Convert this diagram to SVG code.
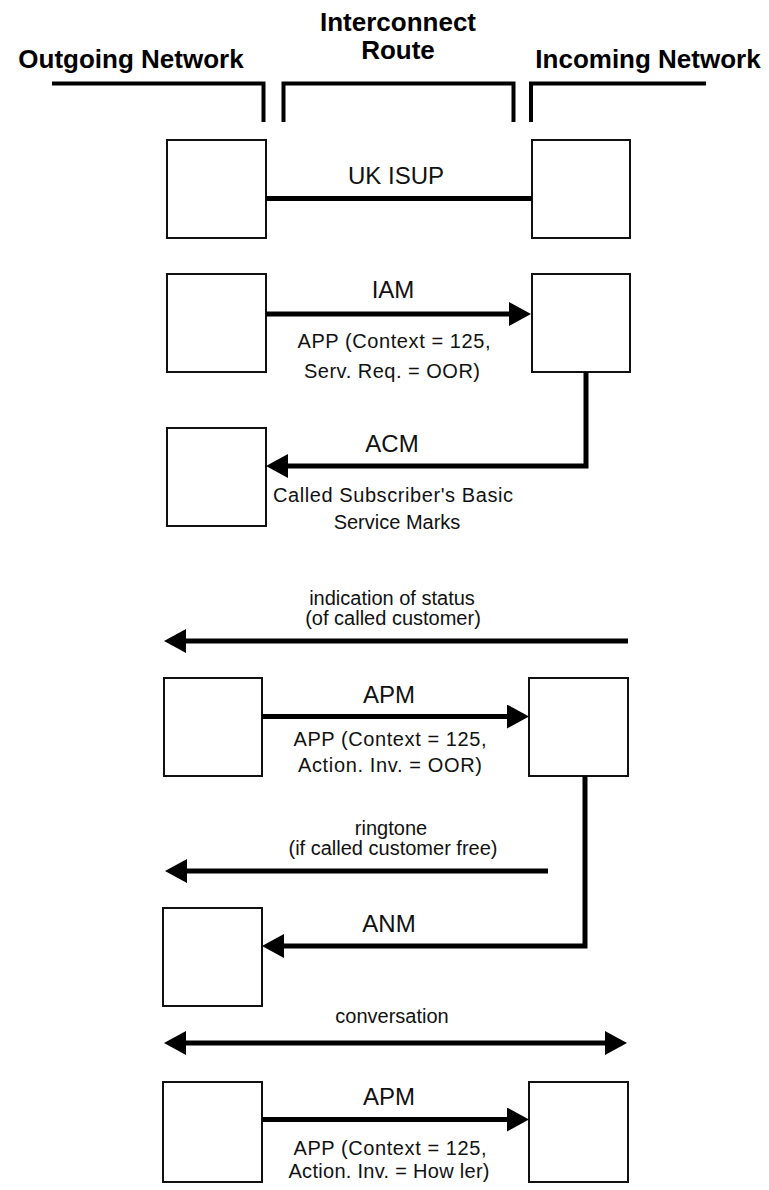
<svg xmlns="http://www.w3.org/2000/svg" width="769" height="1190" viewBox="0 0 769 1190">
<defs>
<marker id="ah" markerUnits="userSpaceOnUse" markerWidth="22" markerHeight="24" refX="10" refY="12" orient="auto-start-reverse">
<path d="M0,0 L22,12 L0,24 Z" fill="#000"/>
</marker>
<style>
.hdr{font-family:"Liberation Sans",Arial,sans-serif;font-weight:bold;font-size:26px;fill:#000;text-anchor:middle}
.msg{font-family:"Liberation Sans",Arial,sans-serif;font-size:24px;fill:#111;text-anchor:middle}
.lbl{font-family:"Liberation Sans",Arial,sans-serif;font-size:20px;fill:#111;text-anchor:middle}
.box{fill:#fff;stroke:#111;stroke-width:2}
.bracket{fill:none;stroke:#000;stroke-width:4}
.con{fill:none;stroke:#000;stroke-width:5}
.arr{fill:none;stroke:#000;stroke-width:5;marker-end:url(#ah)}
</style>
</defs>
<rect width="769" height="1190" fill="#fff"/>

<g id="headers">
<text class="hdr" x="131" y="68">Outgoing Network</text>
<text class="hdr" x="398" y="31">Interconnect</text>
<text class="hdr" x="398" y="59">Route</text>
<text class="hdr" x="648" y="68">Incoming Network</text>
<polyline class="bracket" points="52,83.5 263.5,83.5 263.5,122"/>
<polyline class="bracket" points="283.5,122 283.5,83.5 513.5,83.5 513.5,122"/>
<polyline class="bracket" points="531,122 531,83.5 706,83.5"/>
</g>

<g id="row1-out"><rect class="box" x="167" y="140" width="99" height="98"/></g>
<g id="row1-in"><rect class="box" x="532" y="140" width="98" height="98"/></g>
<g id="row2-out"><rect class="box" x="167" y="274" width="99" height="98"/></g>
<g id="row2-in"><rect class="box" x="532" y="274" width="98" height="98"/></g>
<g id="row3-out"><rect class="box" x="167" y="428" width="99" height="98"/></g>
<g id="row4-out"><rect class="box" x="164" y="678" width="98" height="98"/></g>
<g id="row4-in"><rect class="box" x="529" y="678" width="99" height="98"/></g>
<g id="row5-out"><rect class="box" x="163" y="908" width="99" height="98"/></g>
<g id="row6-out"><rect class="box" x="163" y="1082" width="99" height="100"/></g>
<g id="row6-in"><rect class="box" x="529" y="1082" width="99" height="100"/></g>

<g id="connectors">
<line class="con" x1="266" y1="198.5" x2="532" y2="198.5"/>
<line class="arr" x1="266" y1="314" x2="519" y2="314"/>
<polyline class="arr" points="586,372 586,466 278,466"/>
<line class="arr" x1="628" y1="641" x2="176" y2="641"/>
<line class="arr" x1="262" y1="716.5" x2="517" y2="716.5"/>
<line class="arr" x1="548" y1="871" x2="177" y2="871"/>
<polyline class="arr" points="585,776 585,946 274,946"/>
<line class="arr" x1="176" y1="1043" x2="615" y2="1043" style="marker-start:url(#ah)"/>
<line class="arr" x1="262" y1="1119.5" x2="517" y2="1119.5"/>
</g>

<g id="labels">
<text class="msg" x="396" y="184">UK ISUP</text>
<text class="msg" x="393" y="298">IAM</text>
<text class="lbl" x="394" y="348" textLength="193" lengthAdjust="spacing">APP (Context = 125,</text>
<text class="lbl" x="392" y="378" textLength="176" lengthAdjust="spacing">Serv. Req. = OOR)</text>
<text class="msg" x="392" y="452">ACM</text>
<text class="lbl" x="393" y="502" textLength="240" lengthAdjust="spacing">Called Subscriber's Basic</text>
<text class="lbl" x="397" y="529">Service Marks</text>
<text class="lbl" x="392" y="605">indication of status</text>
<text class="lbl" x="393" y="625">(of called customer)</text>
<text class="msg" x="389" y="703">APM</text>
<text class="lbl" x="390" y="746" textLength="193" lengthAdjust="spacing">APP (Context = 125,</text>
<text class="lbl" x="390" y="772" textLength="184" lengthAdjust="spacing">Action. Inv. = OOR)</text>
<text class="lbl" x="391" y="835">ringtone</text>
<text class="lbl" x="393" y="855">(if called customer free)</text>
<text class="msg" x="389" y="932">ANM</text>
<text class="lbl" x="392" y="1023">conversation</text>
<text class="msg" x="389" y="1105">APM</text>
<text class="lbl" x="390" y="1155" textLength="193" lengthAdjust="spacing">APP (Context = 125,</text>
<text class="lbl" x="389" y="1178" textLength="201" lengthAdjust="spacing">Action. Inv. = How ler)</text>
</g>
</svg>
